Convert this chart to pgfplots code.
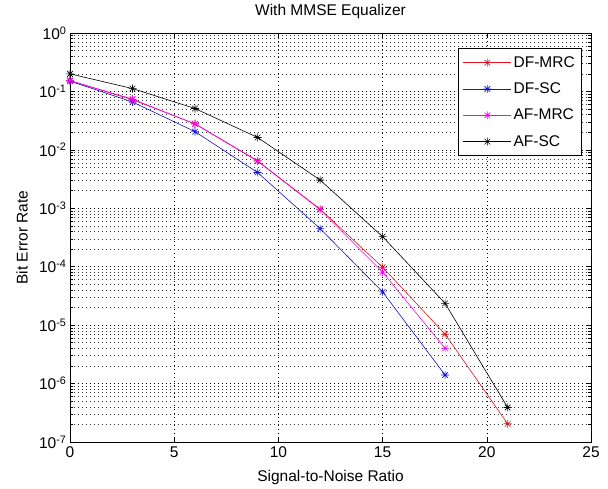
\documentclass[border=0pt]{standalone}
\usepackage{fontspec}
\setmainfont{Liberation Sans}
\usepackage{pgfplots}
\pgfplotsset{compat=1.18}
\definecolor{mred}{RGB}{225,20,30}
\definecolor{mblue}{RGB}{20,20,215}
\definecolor{mmag}{RGB}{250,0,250}
\pgfdeclareplotmark{mstar}{%
 \pgfpathmoveto{\pgfqpoint{-\pgfplotmarksize}{0pt}}\pgfpathlineto{\pgfqpoint{\pgfplotmarksize}{0pt}}%
 \pgfpathmoveto{\pgfqpoint{0pt}{-\pgfplotmarksize}}\pgfpathlineto{\pgfqpoint{0pt}{\pgfplotmarksize}}%
 \pgfpathmoveto{\pgfqpoint{-.707\pgfplotmarksize}{-.707\pgfplotmarksize}}\pgfpathlineto{\pgfqpoint{.707\pgfplotmarksize}{.707\pgfplotmarksize}}%
 \pgfpathmoveto{\pgfqpoint{-.707\pgfplotmarksize}{.707\pgfplotmarksize}}\pgfpathlineto{\pgfqpoint{.707\pgfplotmarksize}{-.707\pgfplotmarksize}}%
 \pgfusepathqstroke}
\newcommand{\sy}[1]{10\textsuperscript{#1}}
\begin{document}
\begin{tikzpicture}
\path[use as bounding box] (-70bp,-47bp) rectangle (538bp,442bp);
\begin{axis}[
  at={(0,0)}, anchor=south west,
  scale only axis, width=521bp, height=409bp,
  ymode=log, xmin=0, xmax=25, ymin=1e-7, ymax=1,
  xtick={0,5,10,15,20,25},
  ytick={1e-7,1e-6,1e-5,1e-4,1e-3,1e-2,1e-1,1},
  yticklabels={\sy{-7},\sy{-6},\sy{-5},\sy{-4},\sy{-3},\sy{-2},\sy{-1},\sy{0}},
  minor x tick num=0,
  /pgf/number format/assume math mode=true,
  font=\fontsize{15.5bp}{18bp}\selectfont,
  ticklabel style={font=\fontsize{15.5bp}{18bp}\selectfont},
  xticklabel style={yshift=-1bp},
  tick align=inside,
  major tick length=5bp, minor tick length=3bp,
  every tick/.style={black, line width=0.6bp},
  axis line style={line width=0.9bp, black},
  grid=both,
  major grid style={black, line width=0.6bp, dash pattern=on 1bp off 3bp},
  minor grid style={black!80, line width=0.6bp, dash pattern=on 1bp off 3bp},
  title={With MMSE Equalizer},
  title style={at={(axis description cs:0.5,1.039)}, anchor=center},
  xlabel={Signal-to-Noise Ratio},
  xlabel style={at={(axis description cs:0.5,-0.0856)}, anchor=center},
  ylabel={Bit Error Rate},
  ylabel style={at={(axis description cs:-0.092,0.5)}, anchor=center},
  legend style={at={(axis description cs:0.983,0.963)}, anchor=north east,
    draw=black, line width=0.8bp, fill=white, font=\fontsize{15.5bp}{18bp}\selectfont,
    row sep=10bp, inner xsep=5bp, inner ysep=6bp,
    legend cell align=left},
  legend image code/.code={\draw[mark repeat=2,mark phase=2,line width=0.6bp] plot coordinates {(0bp,0bp) (24bp,0bp) (48bp,0bp)};},
  every axis plot/.append style={line width=0.6bp, mark=mstar, mark size=4bp},
]
\addplot[mred, mark options={solid}] coordinates {
 (0,0.153) (3,0.072) (6,0.028) (9,0.0065) (12,0.00097) (15,9.8e-5) (18,7.0e-6) (21,2.05e-7)};
\addlegendentry{DF-MRC}
\addplot[mblue] coordinates {
 (0,0.150) (3,0.066) (6,0.0205) (9,0.0041) (12,0.00045) (15,3.7e-5) (18,1.4e-6)};
\addlegendentry{DF-SC}
\addplot[mmag] coordinates {
 (0,0.153) (3,0.074) (6,0.0277) (9,0.0064) (12,0.00095) (15,8.1e-5) (18,4.0e-6)};
\addlegendentry{AF-MRC}
\addplot[black] coordinates {
 (0,0.20) (3,0.112) (6,0.051) (9,0.0163) (12,0.00305) (15,3.27e-4) (18,2.36e-5) (21,3.9e-7)};
\addlegendentry{AF-SC}
\end{axis}
\end{tikzpicture}
\end{document}
